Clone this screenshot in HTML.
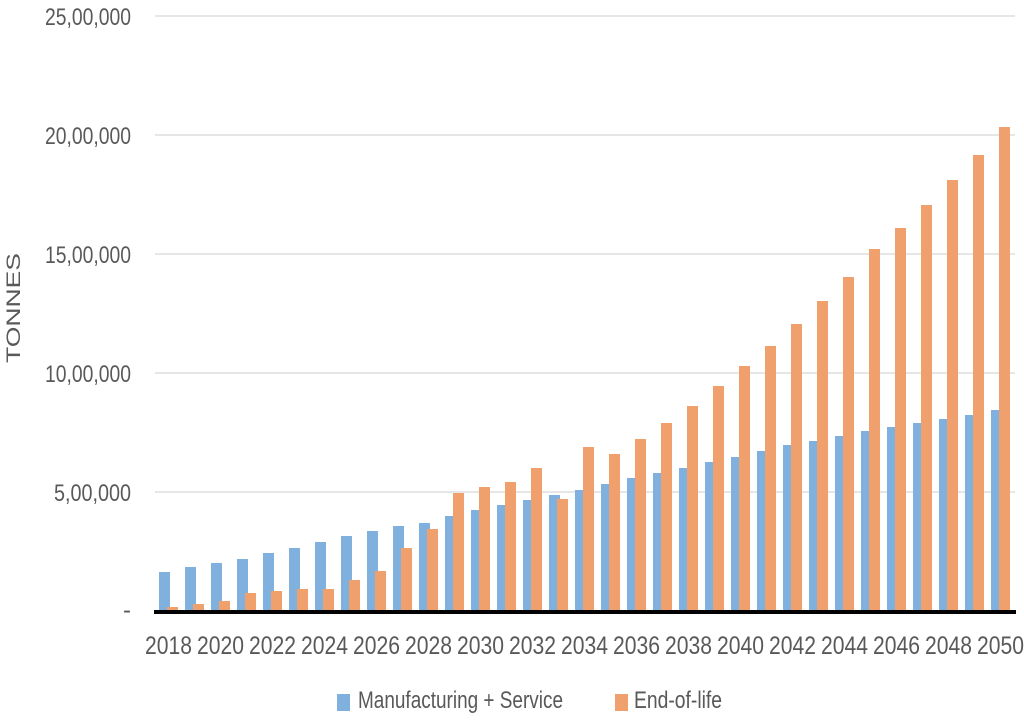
<!DOCTYPE html>
<html><head><meta charset="utf-8"><style>
html,body{margin:0;padding:0;background:#fff;}
svg{display:block;}
text{font-family:"Liberation Sans Narrow","Liberation Sans",sans-serif;fill:#595959;}
</style></head><body>
<svg width="1024" height="720" viewBox="0 0 1024 720" xmlns="http://www.w3.org/2000/svg">
<g stroke="#e6e6e6" stroke-width="2">
<line x1="155" x2="1015" y1="16" y2="16"/>
<line x1="155" x2="1015" y1="135" y2="135"/>
<line x1="155" x2="1015" y1="254" y2="254"/>
<line x1="155" x2="1015" y1="373" y2="373"/>
<line x1="155" x2="1015" y1="492" y2="492"/>
</g>
<g font-size="24" text-anchor="end">
<text x="131" y="25" textLength="86" lengthAdjust="spacingAndGlyphs">25,00,000</text>
<text x="131" y="144" textLength="86" lengthAdjust="spacingAndGlyphs">20,00,000</text>
<text x="131" y="263" textLength="86" lengthAdjust="spacingAndGlyphs">15,00,000</text>
<text x="131" y="382" textLength="86" lengthAdjust="spacingAndGlyphs">10,00,000</text>
<text x="131" y="501" textLength="77" lengthAdjust="spacingAndGlyphs">5,00,000</text>
<text x="131" y="618">-</text>
</g>
<text transform="translate(20,308) rotate(-90)" font-size="19" text-anchor="middle" textLength="110" lengthAdjust="spacingAndGlyphs" style="font-family:'Liberation Sans',sans-serif">TONNES</text>
<g id="bars"></g>
<line x1="154" x2="1016" y1="612" y2="612" stroke="#000" stroke-width="4"/>
<g id="xl" font-size="25" text-anchor="middle"></g>
<rect x="337" y="694" width="13" height="17" fill="#7fb0de"/>
<text x="358" y="708" font-size="24" textLength="205" lengthAdjust="spacingAndGlyphs">Manufacturing + Service</text>
<rect x="615" y="694" width="13" height="17" fill="#f0a06c"/>
<text x="634" y="708" font-size="24" textLength="88" lengthAdjust="spacingAndGlyphs">End-of-life</text>
</svg>
<script>
var b=[572,567,563,559,553,548,542,536,531,526,523,516,510,505,500,495,490,484,478,473,468,462,457,451,445,441,436,431,427,423,419,415,410];
var o=[607,604,601,593,591,589,589,580,571,548,529,493,487,482,468,499,447,454,439,423,406,386,366,346,324,301,277,249,228,205,180,155,127];
var ns="http://www.w3.org/2000/svg",g=document.getElementById("bars"),xl=document.getElementById("xl");
for(var i=0;i<33;i++){
 var r=document.createElementNS(ns,"rect");r.setAttribute("x",159+26*i);r.setAttribute("y",b[i]);r.setAttribute("width",11);r.setAttribute("height",610-b[i]);r.setAttribute("fill","#7fb0de");g.appendChild(r);
 var q=document.createElementNS(ns,"rect");q.setAttribute("x",167+26*i);q.setAttribute("y",o[i]);q.setAttribute("width",11);q.setAttribute("height",610-o[i]);q.setAttribute("fill","#f0a06c");g.appendChild(q);
 if(i%2==0){var t=document.createElementNS(ns,"text");t.setAttribute("x",168.5+26*i);t.setAttribute("y",654);t.setAttribute("textLength",47);t.setAttribute("lengthAdjust","spacingAndGlyphs");t.textContent=2018+i;xl.appendChild(t);}
}
</script>
</body></html>
